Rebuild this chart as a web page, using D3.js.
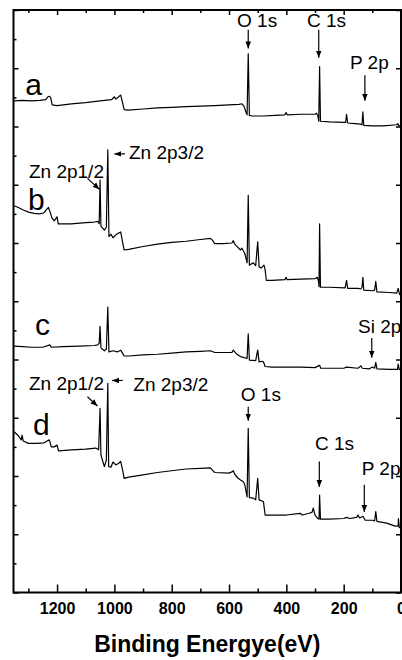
<!DOCTYPE html>
<html><head><meta charset="utf-8">
<script src="https://cdn.jsdelivr.net/npm/d3@7"></script>
<style>html,body{margin:0;padding:0;background:#fff;}svg{display:block;}</style>
</head><body>
<svg id="chart" width="402" height="660"></svg>
<script>
// ---- data (binding energy in eV, intensity in a.u., offset spectra) ----
const seriesNames = ["a", "b", "c", "d"];
const spectrumA = [[1350,84.4],[1320,84.5],[1290,84.4],[1260,84.5],[1240,84.6],[1232,85.1],[1226,85.2],[1222,84.9],[1217,83.7],[1200,83.6],[1150,83.9],[1100,84.1],[1050,84.4],[1010,84.6],[1000,85.1],[995,84.7],[985,85.1],[978,85.4],[972,84.2],[966,82.9],[950,82.8],[900,83.0],[850,83.2],[800,83.3],[750,83.4],[700,83.5],[650,83.6],[600,83.7],[565,83.8],[555,83.9],[548,83.5],[541,82.5],[537,82.0],[533,92.5],[529,81.9],[520,81.8],[480,81.8],[440,81.9],[405,82.0],[401,82.4],[397,82.0],[350,82.1],[300,82.1],[295,82.3],[290,81.8],[287,80.9],[284,90.3],[281,80.9],[250,80.8],[200,80.7],[193,80.7],[190,82.1],[186,80.6],[160,80.5],[140,80.4],[136,80.3],[133,82.5],[130,80.2],[100,80.1],[60,80.1],[15,80.3],[11,80.5],[7,80.1],[0,80.1]];
const spectrumB = [[1350,66.4],[1335,66.1],[1320,65.7],[1300,65.3],[1280,65.1],[1260,65.0],[1245,65.2],[1238,65.7],[1230,66.1],[1224,65.3],[1218,64.3],[1210,63.8],[1200,64.5],[1196,63.3],[1180,63.3],[1150,63.3],[1100,63.5],[1070,63.6],[1058,63.7],[1053,63.3],[1050,70.8],[1047,62.9],[1035,62.2],[1028,62.7],[1023,76.0],[1019,61.1],[1012,61.5],[1005,60.9],[995,61.4],[985,61.7],[978,61.9],[970,59.8],[966,58.8],[950,58.9],[900,59.4],[850,59.8],[800,60.1],[750,60.3],[700,60.6],[665,60.8],[658,60.5],[650,59.9],[620,59.9],[590,60.0],[585,60.4],[580,59.8],[570,59.3],[560,58.8],[555,59.1],[545,58.2],[537,56.6],[533,68.2],[529,56.2],[515,56.6],[507,56.1],[500,60.2],[495,55.9],[488,55.7],[478,56.2],[474,55.4],[470,53.6],[450,53.6],[405,53.7],[401,54.1],[397,53.7],[350,53.8],[300,53.9],[292,54.1],[288,53.5],[286,52.5],[284,63.3],[281,52.4],[250,52.4],[195,52.3],[190,53.6],[186,52.2],[150,52.2],[140,52.1],[136,52.4],[133,54.1],[130,51.9],[100,51.8],[92,51.9],[88,53.4],[84,51.6],[40,51.5],[15,51.4],[10,52.2],[5,51.2],[0,51.0]];
const spectrumC = [[1350,42.3],[1320,42.2],[1290,42.1],[1250,42.1],[1225,42.5],[1220,42.1],[1180,42.2],[1120,42.3],[1070,42.4],[1058,42.5],[1053,42.8],[1050,45.7],[1047,42.0],[1035,41.5],[1028,41.8],[1023,49.0],[1019,41.3],[1005,41.5],[990,41.3],[978,41.6],[966,40.6],[950,40.6],[900,40.8],[850,40.9],[800,41.1],[750,41.3],[700,41.4],[665,41.5],[650,41.2],[590,41.2],[585,41.6],[575,41.0],[560,40.5],[545,40.3],[537,40.2],[533,44.4],[529,39.9],[507,39.8],[500,41.6],[495,39.6],[485,39.7],[480,39.6],[474,38.8],[450,38.7],[400,38.7],[350,38.7],[300,38.6],[288,38.9],[284,39.0],[280,38.5],[200,38.5],[190,38.7],[150,38.5],[140,38.9],[135,38.5],[110,38.4],[100,38.7],[92,38.5],[88,39.5],[84,38.4],[40,38.3],[12,38.3],[10,39.2],[6,38.3],[0,38.2]];
const spectrumD = [[1350,27.6],[1335,26.9],[1325,26.2],[1322,27.0],[1318,26.0],[1300,25.6],[1270,25.6],[1245,25.7],[1235,26.0],[1227,26.2],[1220,25.0],[1210,25.0],[1200,25.3],[1195,24.3],[1150,24.5],[1100,24.6],[1065,24.8],[1055,24.5],[1050,31.6],[1047,23.6],[1035,21.6],[1028,22.7],[1023,35.9],[1020,21.6],[1012,21.5],[1005,22.4],[995,21.9],[985,22.2],[978,22.5],[970,20.7],[966,19.6],[950,19.8],[900,20.2],[850,20.6],[800,20.9],[750,21.2],[700,21.3],[665,21.4],[658,21.0],[650,20.6],[600,20.5],[590,20.7],[585,20.9],[580,20.3],[570,19.7],[560,19.3],[550,19.0],[545,18.5],[537,16.4],[533,28.2],[529,16.3],[515,16.2],[507,15.9],[500,19.6],[495,15.9],[485,15.7],[480,15.6],[474,13.3],[450,13.3],[400,13.3],[352,13.6],[345,13.3],[320,13.6],[310,13.8],[306,14.5],[300,13.3],[290,12.7],[286,12.6],[284,16.7],[281,12.6],[250,12.6],[200,12.7],[190,12.9],[180,12.7],[155,12.9],[150,13.3],[145,12.8],[136,13.0],[133,13.1],[125,12.4],[100,12.4],[92,12.3],[88,13.9],[84,12.2],[50,11.9],[20,11.4],[10,11.4],[9,12.7],[6,11.2],[0,11.0]];
const spectra = [spectrumA, spectrumB, spectrumC, spectrumD];
// label anchors (eV, a.u.)
const seriesLabelPos = [[1311,85.4],[1301,65.7],[1277,44.2],[1284,27.0]];
// peak annotations: text, text anchor (eV, a.u.), arrow from (eV,a.u.) to (eV,a.u.)
const annotations = [
  {text:"O 1s", at:[572,97.0], from:[533,96.6], to:[533,93.4]},
  {text:"C 1s", at:[328,97.1], from:[287,96.6], to:[287,91.8]},
  {text:"P 2p", at:[178,89.9], from:[126,88.8], to:[126,84.4]},
  {text:"Zn 2p1/2", at:[1298,71.2], from:[1094,71.1], to:[1052,69.2]},
  {text:"Zn 2p3/2", at:[949,74.4], from:[963,75.3], to:[1000,75.3]},
  {text:"Si 2p", at:[150,44.5], from:[102,43.7], to:[102,40.3]},
  {text:"Zn 2p1/2", at:[1298,34.8], from:[1094,33.6], to:[1059,32.0]},
  {text:"Zn 2p3/2", at:[934,34.6], from:[971,36.4], to:[1008,36.4]},
  {text:"O 1s", at:[559,32.8], from:[533,31.9], to:[533,29.5]},
  {text:"C 1s", at:[300,24.5], from:[285,22.5], to:[285,18.1]},
  {text:"P 2p", at:[137,20.2], from:[128,18.5], to:[128,13.8]}
];
const xMajorTicks = [1200,1000,800,600,400,200,0];
const xMinorTicks = [1300,1100,900,700,500,300,100];
const xAxisTitle = "Binding Energye(eV)";

// ---- drawing ----
const svg = d3.select("#chart");
const L = 13.5, R = 401, T = 10, B = 592.5;
const x = d3.scaleLinear().domain([1352, 0]).range([L, R]);
const y = d3.scaleLinear().domain([0, 100]).range([B, T]);
const font = "'Liberation Sans', Arial, Helvetica, sans-serif";

const defs = svg.append("defs");
defs.append("clipPath").attr("id","plot").append("rect")
  .attr("x",L).attr("y",T).attr("width",R-L).attr("height",B-T);
defs.append("marker").attr("id","ah").attr("viewBox","0 0 10 10")
  .attr("refX",10).attr("refY",5).attr("markerWidth",7).attr("markerHeight",7)
  .attr("markerUnits","userSpaceOnUse").attr("orient","auto")
  .append("path").attr("d","M0,1 L10,5 L0,9 Z").attr("fill","#000");

const line = d3.line().x(d => x(d[0])).y(d => y(d[1]));
svg.append("g").attr("clip-path","url(#plot)").selectAll("path").data(spectra).join("path")
  .attr("d", line).attr("fill","none").attr("stroke","#000").attr("stroke-width",1.2)
  .attr("stroke-linejoin","round");

// axes (inward ticks on all four sides)
const axBottom = d3.axisBottom(x).tickValues(xMajorTicks).tickSize(-8).tickPadding(16).tickFormat(d3.format("d"));
const axBottomMinor = d3.axisBottom(x).tickValues(xMinorTicks).tickSize(-4).tickFormat("");
const axTop = d3.axisTop(x).tickValues(xMajorTicks).tickSize(-5).tickFormat("");
const axTopMinor = d3.axisTop(x).tickValues(xMinorTicks).tickSize(-3).tickFormat("");
const yMajor = d3.range(0, 101, 10), yMinor = d3.range(5, 100, 10);
const axLeft = d3.axisLeft(y).tickValues(yMajor).tickSize(-5).tickFormat("");
const axLeftMinor = d3.axisLeft(y).tickValues(yMinor).tickSize(-3).tickFormat("");
const axRight = d3.axisRight(y).tickValues(yMajor).tickSize(-5).tickFormat("");

function style(g){ g.select(".domain").remove(); g.selectAll("line").attr("stroke","#000").attr("stroke-width",1.5); }
svg.append("g").attr("transform",`translate(0,${B})`).call(axBottom).call(style)
  .selectAll("text").attr("font-family",font).attr("font-weight","bold").attr("font-size",16).attr("fill","#000").attr("dy","0.35em");
svg.append("g").attr("transform",`translate(0,${B})`).call(axBottomMinor).call(style);
svg.append("g").attr("transform",`translate(0,${T})`).call(axTop).call(style);
svg.append("g").attr("transform",`translate(0,${T})`).call(axTopMinor).call(style);
svg.append("g").attr("transform",`translate(${L},0)`).call(axLeft).call(style);
svg.append("g").attr("transform",`translate(${L},0)`).call(axLeftMinor).call(style);
svg.append("g").attr("transform",`translate(${R},0)`).call(axRight).call(style);

svg.append("rect").attr("x",L).attr("y",T).attr("width",R-L).attr("height",B-T)
  .attr("fill","none").attr("stroke","#000").attr("stroke-width",2);

svg.append("text").attr("x",(L+R)/2).attr("y",651.5).attr("text-anchor","middle")
  .attr("font-family",font).attr("font-weight","bold").attr("font-size",23).text(xAxisTitle);

// series labels
svg.selectAll("text.series").data(seriesNames).join("text").attr("class","series")
  .attr("x",(d,i)=>x(seriesLabelPos[i][0])).attr("y",(d,i)=>y(seriesLabelPos[i][1]))
  .attr("font-family",font).attr("font-size",30).text(d=>d);

// annotations
const ann = svg.append("g");
ann.selectAll("line").data(annotations).join("line")
  .attr("x1",d=>x(d.from[0])).attr("y1",d=>y(d.from[1]))
  .attr("x2",d=>x(d.to[0])).attr("y2",d=>y(d.to[1]))
  .attr("stroke","#000").attr("stroke-width",1.2).attr("marker-end","url(#ah)");
ann.selectAll("text").data(annotations).join("text")
  .attr("x",d=>x(d.at[0])).attr("y",d=>y(d.at[1]))
  .attr("font-family",font).attr("font-size",19).text(d=>d.text);
</script>
</body></html>
